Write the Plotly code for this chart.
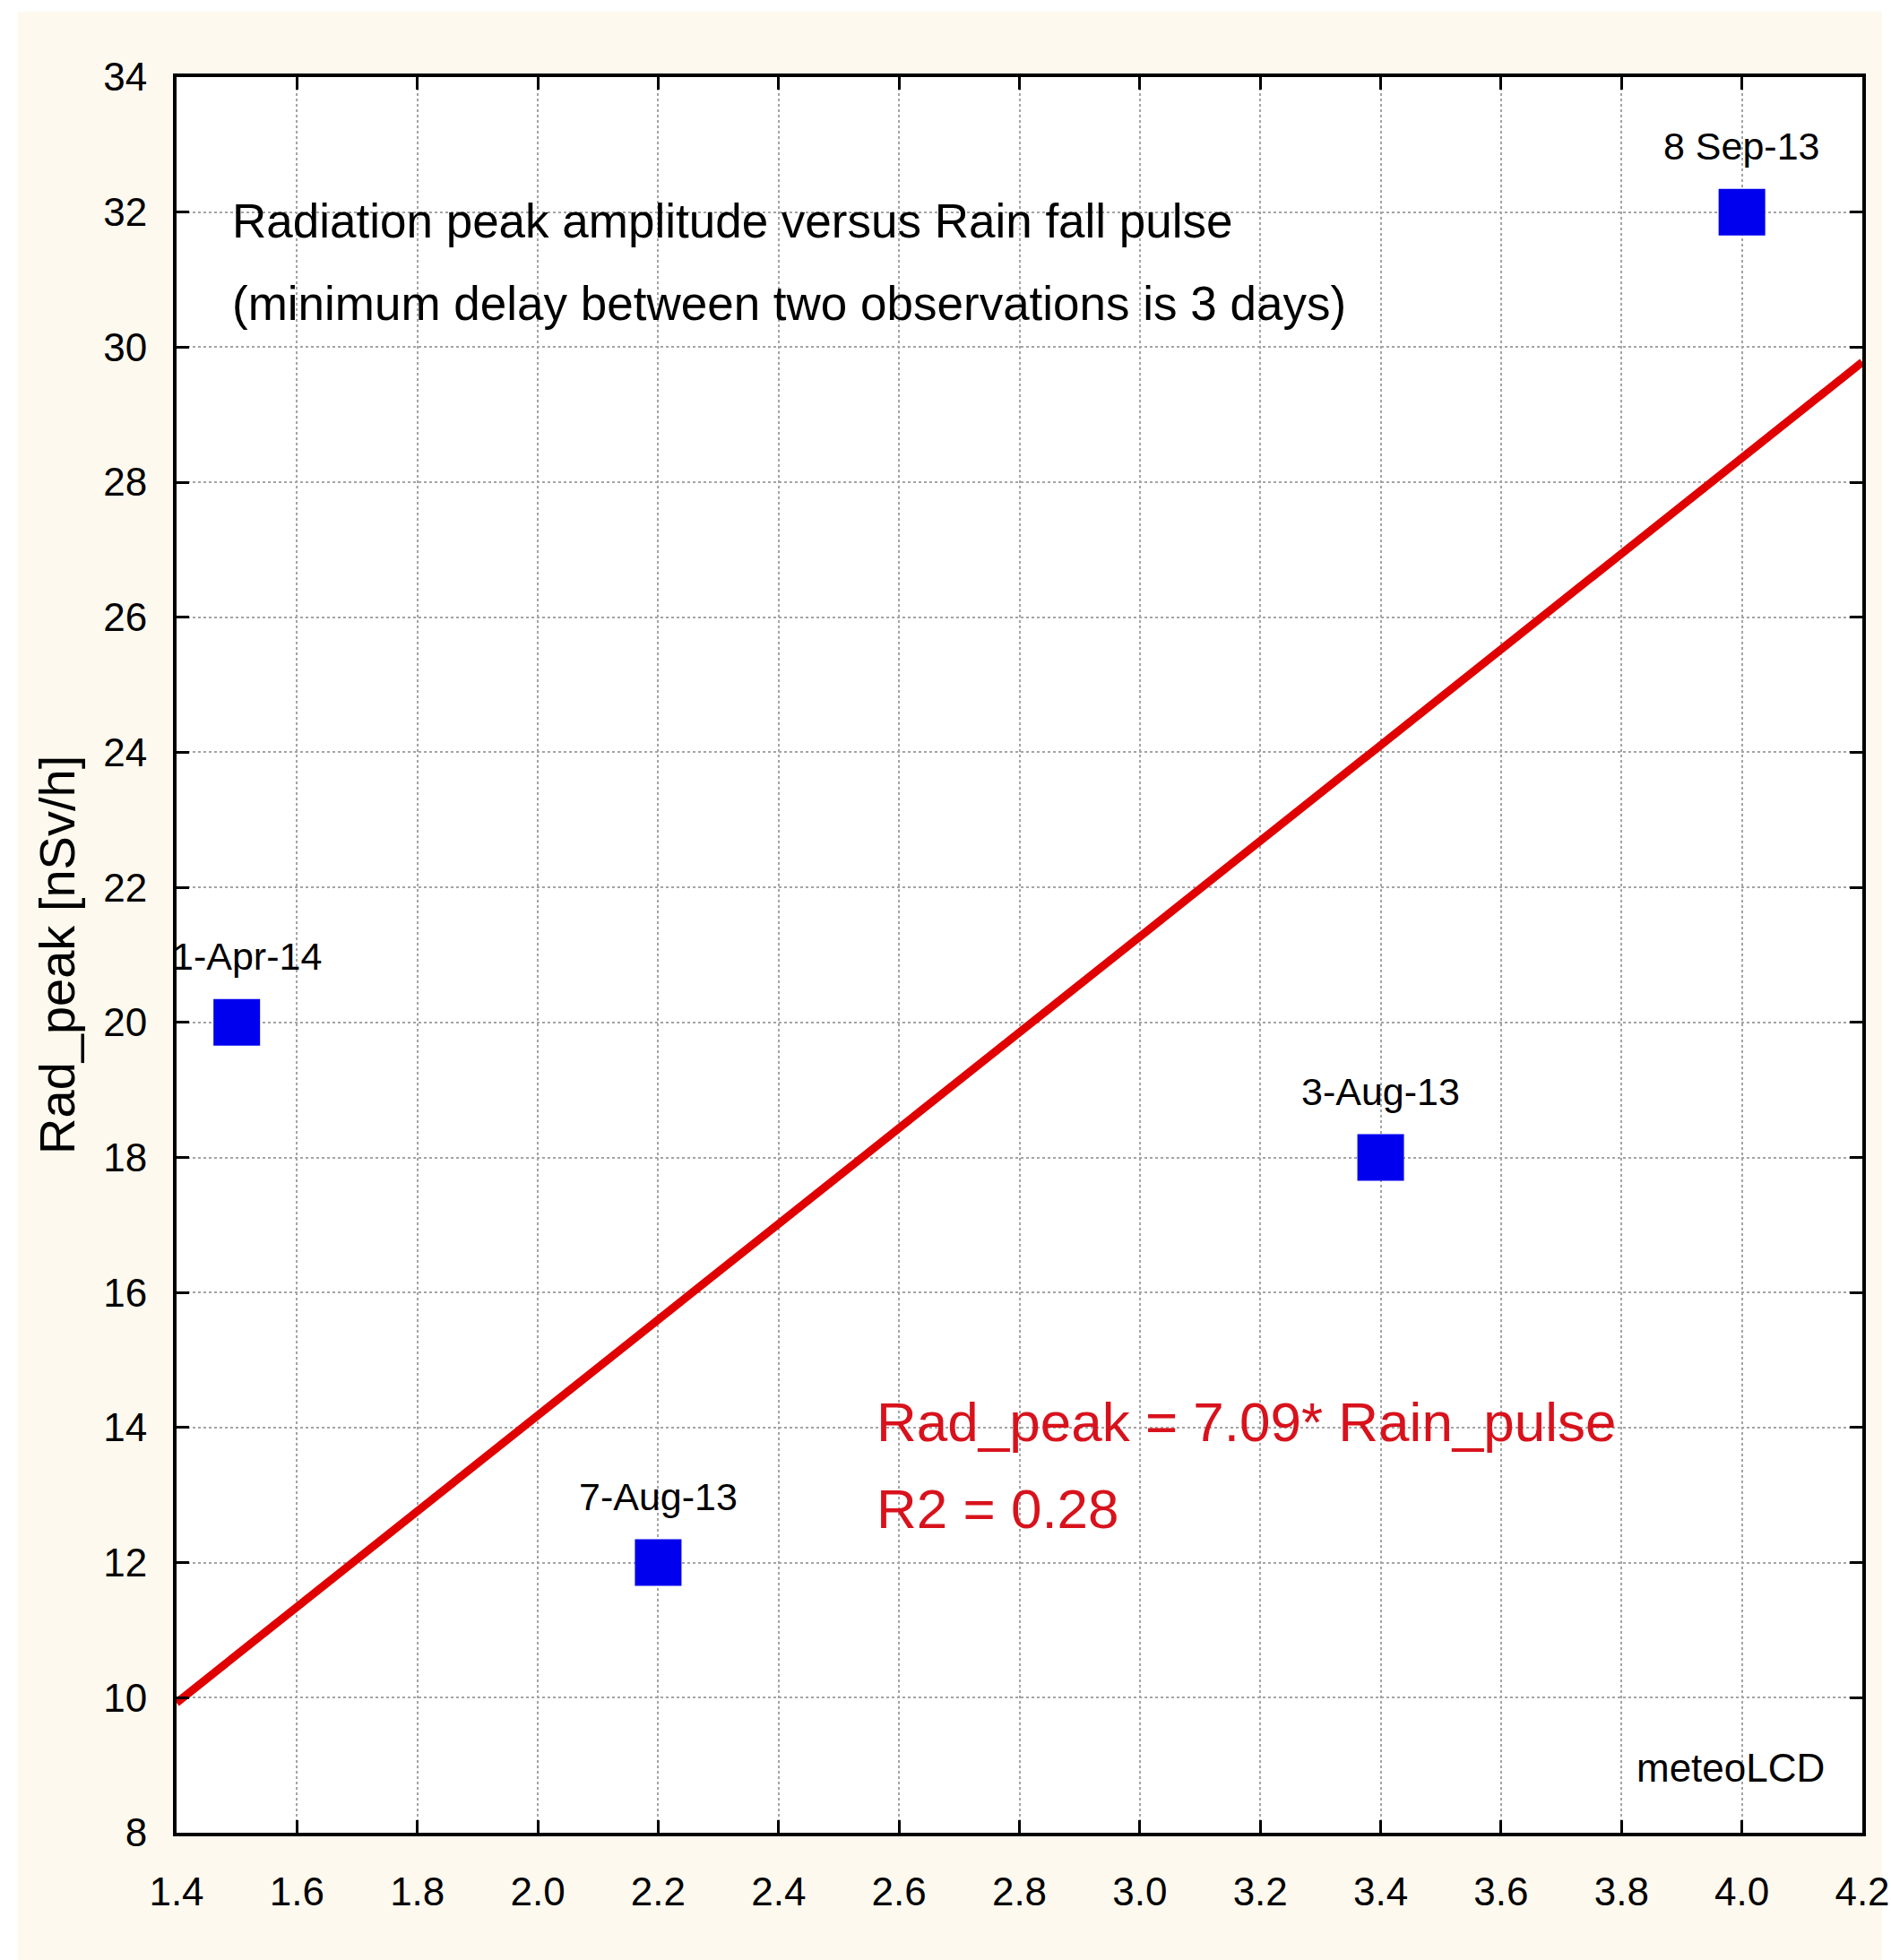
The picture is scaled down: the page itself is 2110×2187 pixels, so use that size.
import plotly.graph_objects as go

# ---- data ----
rain_pulse = [1.5, 2.2, 3.4, 4.0]
rad_peak = [20, 12, 18, 32]
point_labels = ["1-Apr-14", "7-Aug-13", "3-Aug-13", "8 Sep-13"]
label_dx = [11, 0, 0, 0]

fit_slope = 7.09
fit_x = [1.4, 4.2]
fit_y = [fit_slope * v for v in fit_x]

x_ticks = [1.4, 1.6, 1.8, 2.0, 2.2, 2.4, 2.6, 2.8, 3.0, 3.2, 3.4, 3.6, 3.8, 4.0, 4.2]
y_ticks = [8, 10, 12, 14, 16, 18, 20, 22, 24, 26, 28, 30, 32, 34]

title_lines = ["Radiation peak amplitude versus Rain fall pulse",
               "(minimum delay between two observations is 3 days)"]
eq_lines = ["Rad_peak = 7.09* Rain_pulse", "R2 = 0.28"]

FONT = "Liberation Sans, Arial, sans-serif"
CREAM = "#FEF9EE"

fig = go.Figure()

fig.add_trace(go.Scatter(
    x=fit_x, y=fit_y, mode="lines",
    line=dict(color="#E00000", width=9),
    showlegend=False, hoverinfo="skip"))

fig.add_trace(go.Scatter(
    x=rain_pulse, y=rad_peak, mode="markers",
    marker=dict(symbol="square", size=52, color="#0000EE",
                line=dict(width=0)),
    showlegend=False))

for xv, yv, lab, dx in zip(rain_pulse, rad_peak, point_labels, label_dx):
    fig.add_annotation(x=xv, y=yv, text=lab, showarrow=False,
                       xshift=dx, yshift=74,
                       font=dict(family=FONT, size=43, color="black"))

# title lines
fig.add_annotation(xref="paper", yref="paper", x=0.032, y=0.918,
                   xanchor="left", yanchor="middle", showarrow=False,
                   text=title_lines[0],
                   font=dict(family=FONT, size=53, color="black"))
fig.add_annotation(xref="paper", yref="paper", x=0.032, y=0.871,
                   xanchor="left", yanchor="middle", showarrow=False,
                   text=title_lines[1],
                   font=dict(family=FONT, size=53, color="black"))

# equation
fig.add_annotation(xref="paper", yref="paper", x=0.414, y=0.234,
                   xanchor="left", yanchor="middle", showarrow=False,
                   text=eq_lines[0],
                   font=dict(family=FONT, size=62, color="#D8121C"))
fig.add_annotation(xref="paper", yref="paper", x=0.414, y=0.1845,
                   xanchor="left", yanchor="middle", showarrow=False,
                   text=eq_lines[1],
                   font=dict(family=FONT, size=62, color="#D8121C"))

# watermark
fig.add_annotation(xref="paper", yref="paper", x=0.9787, y=0.037,
                   xanchor="right", yanchor="middle", showarrow=False,
                   text="meteoLCD",
                   font=dict(family=FONT, size=44, color="black"))

# y-axis title
fig.add_annotation(xref="paper", yref="paper", x=-0.071, y=0.5,
                   xanchor="center", yanchor="middle", showarrow=False,
                   text="Rad_peak [nSv/h]", textangle=-90,
                   font=dict(family=FONT, size=56, color="black"))

# cream page panel, white plotting area
fig.add_shape(type="rect", xref="paper", yref="paper",
              x0=-0.0941, x1=1.0117, y0=-0.08, y1=1.0373,
              fillcolor=CREAM, line=dict(width=0), layer="below")
fig.add_shape(type="rect", xref="paper", yref="paper",
              x0=0, x1=1, y0=0, y1=1,
              fillcolor="white", line=dict(width=0), layer="below")

axis_common = dict(
    showline=True, linecolor="black", linewidth=4, mirror="ticks",
    ticks="inside", ticklen=14, tickwidth=3, tickcolor="black",
    showgrid=True, gridcolor="#A4A4A4", gridwidth=2, griddash="3px,3px",
    zeroline=False, ticklabeloverflow="allow",
    tickfont=dict(family=FONT, size=44, color="black"),
)

fig.update_xaxes(range=[1.4, 4.2], tickvals=x_ticks,
                 ticktext=[f"{v:.1f}" for v in x_ticks],
                 ticklabelstandoff=24, **axis_common)
fig.update_yaxes(range=[8, 34], tickvals=y_ticks,
                 ticktext=[str(v) for v in y_ticks],
                 ticklabelstandoff=20, **axis_common)

fig.update_layout(
    width=2110, height=2187,
    margin=dict(l=197, r=32, t=86, b=142, autoexpand=False),
    paper_bgcolor="white", plot_bgcolor="white",
    showlegend=False,
)

fig.write_html(
    "out.html",
    config={"displayModeBar": False},
    post_script="document.body.style.margin='0px';"
                "document.body.style.overflow='hidden';",
)
